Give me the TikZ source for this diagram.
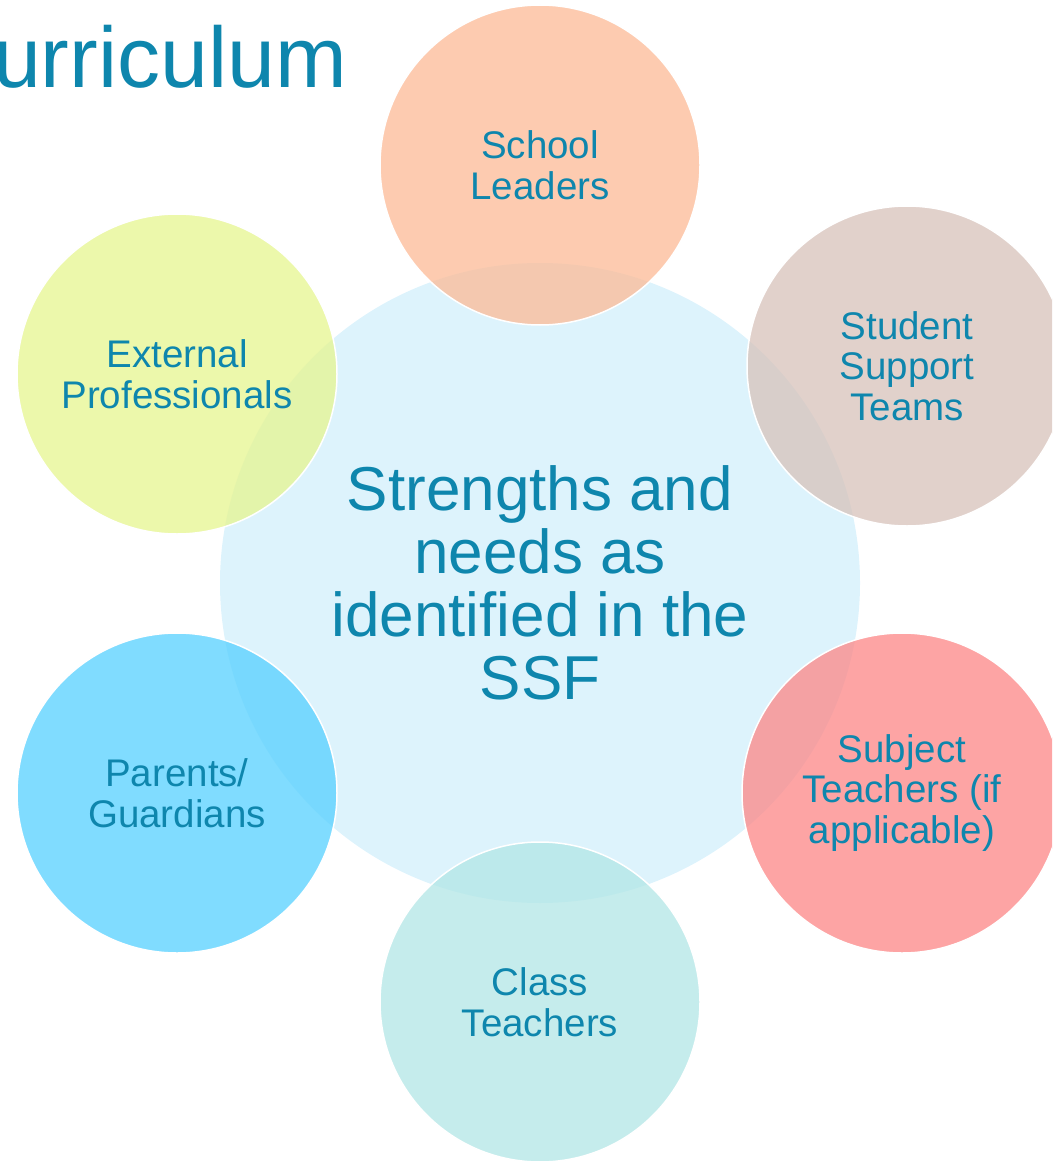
\documentclass[tikz,border=0pt]{standalone}
\usepackage{fontspec}
\setmainfont{Liberation Sans}
\definecolor{txtblue}{HTML}{0E86AD}
\definecolor{hubblue}{HTML}{DDF3FC}
\definecolor{peach}{RGB}{252,186,150}
\definecolor{taupe}{RGB}{215,194,186}
\definecolor{salmon}{RGB}{252,134,134}
\definecolor{aqua}{RGB}{178,230,230}
\definecolor{sky}{RGB}{86,208,255}
\definecolor{lime}{RGB}{230,245,143}
\begin{document}
\begin{tikzpicture}[x=1pt,y=-1pt,
  hub/.style={circle, fill=hubblue, minimum size=640pt, inner sep=0pt, align=center,
    text=txtblue, font=\fontsize{62}{63}\selectfont},
  party/.style={circle, draw=white, line width=1.5pt, fill opacity=0.75, text opacity=1,
    minimum size=320pt, inner sep=0pt, align=center, text=txtblue,
    font=\fontsize{38.5}{40.5}\selectfont}]
\useasboundingbox (0,0) rectangle (1052,1161);
\clip (0,0) rectangle (1052,1161);
\node[anchor=base east, text=txtblue, font=\fontsize{86}{90}\selectfont, inner sep=0pt] (title) at (347,88) {urriculum};
\node[hub] (ssf) at (540,583) {Strengths and\\needs as\\identified in the\\SSF};
\node[party, fill=peach] (leaders) at (540,165) {School\\Leaders};
\node[party, fill=taupe] (support) at (907,366) {Student\\Support\\Teams};
\node[party, fill=salmon] (subject) at (902,793) {Subject\\Teachers (if\\applicable)};
\node[party, fill=aqua] (class) at (540,1002) {Class\\Teachers};
\node[party, fill=sky] (parents) at (177,793) {Parents/\\Guardians};
\node[party, fill=lime] (external) at (177,374) {External\\Professionals};
\end{tikzpicture}
\end{document}
